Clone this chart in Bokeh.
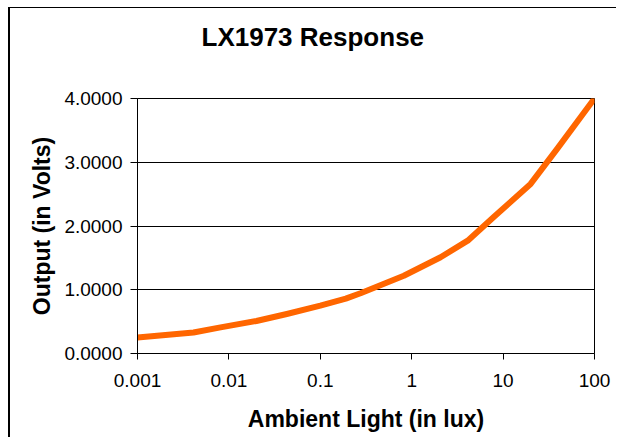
from bokeh.plotting import figure
from bokeh.models import FixedTicker, PrintfTickFormatter, Range1d, Title
from bokeh.embed import file_html
from bokeh.resources import INLINE

# data
lux = [0.001, 0.0041, 0.0081, 0.020, 0.043, 0.10, 0.19, 0.28, 0.82, 2.07, 4.1, 7.9, 20, 39, 100]
volts = [0.25, 0.33, 0.41, 0.51, 0.62, 0.75, 0.86, 0.95, 1.22, 1.51, 1.77, 2.14, 2.66, 3.21, 4.0]
x_ticks = [0.001, 0.01, 0.1, 1, 10, 100]
x_tick_labels = ["0.001", "0.01", "0.1", "1", "10", "100"]
y_ticks = [0, 1, 2, 3, 4]
title_text = "LX1973  Response"

FONT = "Liberation Sans"

p = figure(width=608, height=430, x_axis_type="log",
           x_range=Range1d(0.001, 100), y_range=Range1d(0, 4),
           output_backend="svg", toolbar_location=None,
           min_border_left=127, min_border_right=24,
           min_border_top=90, min_border_bottom=85,
           styles={"margin-left": "8px", "margin-top": "7px",
                   "border-left": "2px solid black", "border-top": "1px solid black"})

# spacer between the plot frame and the title (first "above" item sits next to the frame)
p.add_layout(Title(text=" ", text_font_size="1px", standoff=44), "above")
# the chart title itself
p.add_layout(Title(text=title_text, text_font=FONT, text_font_size="26px",
                   text_font_style="bold", text_color="black",
                   align="left", offset=64, standoff=0), "above")

p.line(lux, volts, line_color="#FF6600", line_width=6, line_cap="round", line_join="round")

p.outline_line_color = "black"
p.outline_line_width = 1
p.background_fill_color = "white"
p.border_fill_color = "white"

p.xgrid.visible = False
p.ygrid.grid_line_color = "black"
p.ygrid.grid_line_width = 1
p.ygrid.ticker = FixedTicker(ticks=y_ticks)

xa = p.xaxis[0]
xa.ticker = FixedTicker(ticks=x_ticks)
xa.major_label_overrides = {t: l for t, l in zip(x_ticks, x_tick_labels)}
xa.axis_label = "Ambient Light (in lux)"
xa.minor_tick_line_color = None
xa.major_tick_out = 6
xa.major_tick_in = 0
xa.major_label_standoff = 14
xa.major_label_text_font_size = "19px"
xa.axis_label_standoff = 16

ya = p.yaxis[0]
ya.ticker = FixedTicker(ticks=y_ticks)
ya.formatter = PrintfTickFormatter(format="%.4f")
ya.axis_label = "Output (in Volts)"
ya.minor_tick_line_color = None
ya.major_tick_out = 7
ya.major_tick_in = 0
ya.major_label_standoff = 8
ya.major_label_text_font_size = "19px"
ya.axis_label_standoff = 6

for ax in (xa, ya):
    ax.axis_line_color = "black"
    ax.major_tick_line_color = "black"
    ax.major_label_text_font = FONT
    ax.major_label_text_color = "black"
    ax.axis_label_text_font = FONT
    ax.axis_label_text_font_size = "23px"
    ax.axis_label_text_font_style = "bold"
    ax.axis_label_text_color = "black"

open("out.html", "w").write(file_html(p, INLINE))
